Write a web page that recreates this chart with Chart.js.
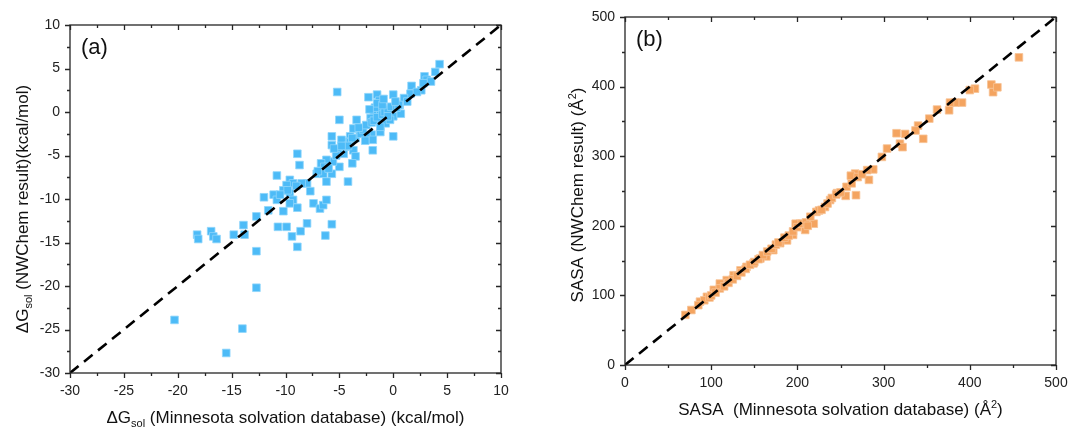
<!DOCTYPE html>
<html>
<head>
<meta charset="utf-8">
<script src="https://cdn.jsdelivr.net/npm/chart.js@4.4.0/dist/chart.umd.min.js"></script>
<style>
  html, body { margin: 0; padding: 0; background: #fff; }
  .panel { position: absolute; top: 0; height: 429px; }
  #pa { left: 0; width: 540px; }
  #pb { left: 540px; width: 529px; }
</style>
</head>
<body>
<div class="panel" id="pa"><canvas id="ca"></canvas></div>
<div class="panel" id="pb"><canvas id="cb"></canvas></div>
<script>
// (a) solvation free energy, kcal/mol
const dgMinnesota = [4.3, 3.9, 2.9, 3.1, 3.5, 2.6, 1.7, 1.6, 1.0, 1.3, 0.0, 0.6, -1.5, -1.3, -2.3, -5.2, -5.0, -3.4, -1.8, -1.2,
  -0.6, -0.3, 0.0, 0.7, -2.1, -1.2, -0.7, -0.3, 0.0, -1.2, -2.0, -2.5, -3.1, -3.7, -4.0, -4.3, -4.8, -5.7, -5.7, -5.2,
  -4.6, -3.7, -3.5, -3.8, -1.9, -1.9, -5.0, -5.6, -6.2, -6.7, -6.4, -7.1, -6.5, -5.7, -6.2, -4.2, -8.7, -8.9, -10.8, -9.6,
  -9.3, -9.9, -10.2, -11.1, -10.8, -9.6, -9.3, -9.6, -8.0, -7.7, -7.4, -6.8, -6.5, -6.2, -8.9, -10.2, -12.0, -11.6, -12.7, -13.9,
  -13.8, -14.8, -12.7, -12.7, -16.9, -16.7, -16.4, -18.2, -18.1, -10.7, -9.9, -8.0, -5.7, -9.4, -8.6, -8.9, -6.3, -20.3, -14.0, -15.5,
  -5.0, -4.5, -4.0, -3.5, -3.0, -2.8, -2.5, -2.0, -1.8, -1.5, -1.0, -0.8, -0.5, -0.2, 0.3, 0.5, -1.7, -1.5, -1.0, -0.5,
  -1.2, -3.8, -4.2, -5.3, -5.5, -6.0, -7.0, -8.5, -9.8, -10.5, -9.0, 2.2, 2.8, 0.2, -2.2, -0.9, -4.8, -3.2, -2.6];
const dgNWChem = [5.5, 4.6, 4.1, 3.7, 3.5, 2.5, 3.0, 2.1, 1.6, 1.2, 2.0, 0.8, 2.0, 1.3, 1.7, 2.3, -0.9, -0.9, -0.2, 0.2,
  0.4, -0.2, -0.5, -0.2, -0.7, -1.1, -1.3, -0.9, -2.8, -2.3, -2.6, -2.8, -2.5, -1.9, -2.8, -3.4, -3.2, -2.8, -3.8, -4.4,
  -4.8, -4.4, -5.1, -5.9, -4.4, -3.2, -6.3, -5.7, -5.5, -5.9, -6.3, -7.1, -7.1, -7.1, -8.0, -8.0, -6.1, -4.8, -7.3, -7.8,
  -8.2, -8.4, -9.0, -9.5, -10.1, -9.3, -10.1, -10.5, -8.2, -9.1, -10.5, -11.1, -10.7, -10.1, -11.0, -11.4, -9.8, -11.3, -12.0, -13.0,
  -14.1, -14.1, -16.0, -20.2, -13.7, -14.3, -14.6, -14.1, -14.6, -13.2, -13.2, -12.8, -12.9, -14.3, -13.7, -15.5, -14.2, -23.9, -24.9, -27.7,
  -4.5, -4.0, -3.5, -3.0, -2.5, -2.0, -1.5, -1.2, -1.0, -0.6, -0.3, 0.0, 0.3, 0.6, 0.5, 0.8, 0.5, 1.0, 0.8, -0.5,
  -1.7, -3.0, -3.9, -5.0, -4.2, -6.5, -6.8, -8.2, -9.0, -9.5, -8.5, 2.3, 3.3, 1.2, 0.3, 1.5, -3.9, -1.8, -3.3];

// (b) solvent accessible surface area, A^2
const sasaMinnesota = [457, 425, 427, 432, 406, 400, 391, 383, 376, 377, 362, 353, 340, 337, 346, 315, 325, 319, 322, 304,
  298, 288, 281, 283, 267, 268, 256, 257, 263, 246, 238, 232, 222, 219, 209, 203, 195, 188, 180, 172,
  164, 157, 149, 141, 134, 126, 118, 110, 103, 95, 87, 77, 70,
  110, 115, 120, 125, 130, 135, 140, 145, 150, 155, 160, 165, 170, 175, 178, 185, 190, 195, 198, 200,
  205, 210, 212, 215, 225, 228, 235, 240, 245, 250, 262, 270, 275, 92, 98, 100, 105, 85];
const sasaNWChem = [442, 403, 392, 399, 397, 395, 377, 377, 366, 377, 367, 354, 344, 337, 325, 333, 332, 318, 313, 311,
  299, 281, 280, 266, 275, 244, 243, 256, 261, 247, 237, 227, 220, 203, 194, 203, 187, 179, 175, 165,
  156, 153, 146, 141, 136, 129, 122, 117, 108, 98, 91, 79, 72,
  110, 113, 118, 123, 128, 133, 138, 144, 148, 152, 158, 163, 167, 173, 176, 183, 186, 192, 203, 198,
  203, 205, 200, 213, 222, 223, 232, 240, 245, 248, 272, 270, 274, 93, 97, 100, 104, 86];

const dgRange = [-30, 10];
const sasaRange = [0, 500];

const FONT = 'Liberation Sans, Arial, sans-serif';
const AXIS = '#262626';

function toPoints(xs, ys) {
  return xs.map((x, i) => ({ x: x, y: ys[i] }));
}

// frame and ticks on all four sides (outside on bottom/left, inside on top/right)
const framePlugin = {
  id: 'frame',
  afterDraw(chart, args, opts) {
    const { ctx, chartArea: a, scales: { x, y } } = chart;
    ctx.save();
    ctx.strokeStyle = AXIS;
    ctx.lineWidth = 1.3;
    ctx.strokeRect(a.left, a.top, a.right - a.left, a.bottom - a.top);
    ctx.beginPath();
    for (let v = x.min; v <= x.max + 1e-9; v += opts.minor) {
      const px = Math.round(x.getPixelForValue(v)) + 0.5;
      const major = Math.abs(Math.round(v / opts.major) * opts.major - v) < 1e-6;
      const len = major ? 5 : 3;
      ctx.moveTo(px, a.bottom); ctx.lineTo(px, a.bottom + len);
      ctx.moveTo(px, a.top); ctx.lineTo(px, a.top + len);
    }
    for (let v = y.min; v <= y.max + 1e-9; v += opts.minor) {
      const py = Math.round(y.getPixelForValue(v)) + 0.5;
      const major = Math.abs(Math.round(v / opts.major) * opts.major - v) < 1e-6;
      const len = major ? 5 : 3;
      ctx.moveTo(a.left, py); ctx.lineTo(a.left - len, py);
      ctx.moveTo(a.right, py); ctx.lineTo(a.right - len, py);
    }
    ctx.stroke();

    // panel tag
    ctx.fillStyle = '#111';
    ctx.font = '22px ' + FONT;
    ctx.textBaseline = 'middle';
    ctx.fillText(opts.tag, a.left + 11, a.top + 23);

    // axis titles with sub/superscripts
    drawRich(ctx, opts.xTitle, (a.left + a.right) / 2, opts.xTitleY, 0);
    drawRich(ctx, opts.yTitle, opts.yTitleX, (a.top + a.bottom) / 2 + opts.yTitleShift, -Math.PI / 2);
    ctx.restore();
  }
};

function drawRich(ctx, parts, cx, cy, rot) {
  const big = '17px ' + FONT, small = '11px ' + FONT;
  let w = 0;
  parts.forEach(p => { ctx.font = p.s ? small : big; w += ctx.measureText(p.t).width; });
  ctx.save();
  ctx.translate(cx, cy);
  ctx.rotate(rot);
  ctx.fillStyle = '#111';
  ctx.textBaseline = 'alphabetic';
  let xx = -w / 2;
  parts.forEach(p => {
    ctx.font = p.s ? small : big;
    const dy = p.s === 'sub' ? 10 : p.s === 'sup' ? -1 : 6;
    ctx.fillText(p.t, xx, dy);
    xx += ctx.measureText(p.t).width;
  });
  ctx.restore();
}

function makeChart(el, cfg) {
  const range = cfg.range;
  return new Chart(el, {
    type: 'scatter',
    data: {
      datasets: [
        {
          type: 'line',
          data: [{ x: range[0], y: range[0] }, { x: range[1], y: range[1] }],
          borderColor: '#000',
          borderWidth: 2.6,
          borderDash: [11, 7],
          pointRadius: 0,
          order: 0
        },
        {
          data: toPoints(cfg.xs, cfg.ys),
          pointStyle: 'rect',
          pointRadius: 5.4,
          backgroundColor: cfg.color,
          borderColor: cfg.edge,
          borderWidth: 0.8,
          order: 1
        }
      ]
    },
    options: {
      responsive: true,
      maintainAspectRatio: false,
      animation: false,
      events: [],
      layout: { padding: cfg.padding },
      plugins: {
        legend: { display: false },
        tooltip: { enabled: false },
        frame: cfg.frame
      },
      scales: {
        x: {
          type: 'linear', min: range[0], max: range[1],
          grid: { display: false, drawTicks: false },
          border: { display: false },
          afterFit: s => { s.height = cfg.xHeight; s.paddingLeft = 0; s.paddingRight = 0; },
          ticks: {
            stepSize: cfg.major, padding: 10, color: '#222', maxRotation: 0,
            font: { family: FONT, size: 14 }
          }
        },
        y: {
          type: 'linear', min: range[0], max: range[1],
          grid: { display: false, drawTicks: false },
          border: { display: false },
          afterFit: s => { s.width = cfg.yWidth; s.paddingTop = 0; s.paddingBottom = 0; },
          ticks: {
            stepSize: cfg.major, padding: 10, color: '#222',
            font: { family: FONT, size: 14 }
          }
        }
      }
    },
    plugins: [framePlugin]
  });
}

makeChart(document.getElementById('ca'), {
  range: dgRange, xs: dgMinnesota, ys: dgNWChem, major: 5,
  color: '#4DBBF7', edge: '#8FD6FB',
  padding: { left: 0, top: 25, right: 39, bottom: 0 },
  xHeight: 56, yWidth: 70,
  frame: {
    tag: '(a)', major: 5, minor: 2.5, xTitleY: 417, yTitleX: 22, yTitleShift: 10,
    xTitle: [{ t: 'ΔG' }, { t: 'sol', s: 'sub' }, { t: ' (Minnesota solvation database) (kcal/mol)' }],
    yTitle: [{ t: 'ΔG' }, { t: 'sol', s: 'sub' }, { t: ' (NWChem result)(kcal/mol)' }]
  }
});

makeChart(document.getElementById('cb'), {
  range: sasaRange, xs: sasaMinnesota, ys: sasaNWChem, major: 100,
  color: '#F4A460', edge: '#F8C396',
  padding: { left: 0, top: 17, right: 13, bottom: 0 },
  xHeight: 64, yWidth: 85,
  frame: {
    tag: '(b)', major: 100, minor: 50, xTitleY: 409, yTitleX: 37, yTitleShift: 4,
    xTitle: [{ t: 'SASA  (Minnesota solvation database) (Å' }, { t: '2', s: 'sup' }, { t: ')' }],
    yTitle: [{ t: 'SASA (NWChem result) (Å' }, { t: '2', s: 'sup' }, { t: ')' }]
  }
});
</script>
</body>
</html>
